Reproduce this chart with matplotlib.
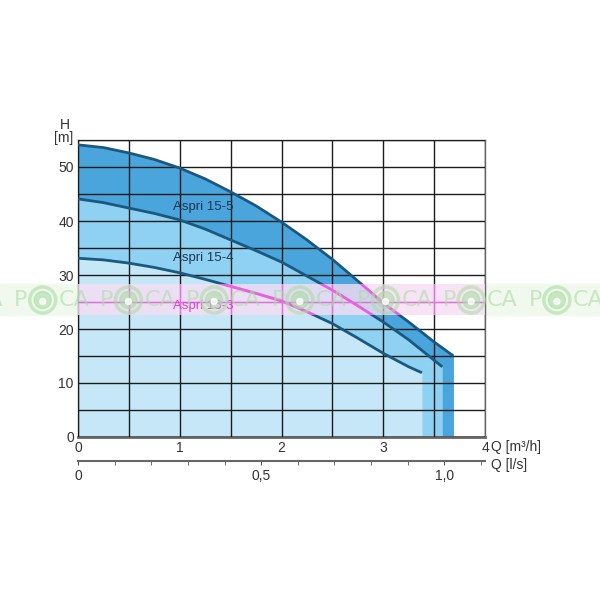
import numpy as np
import matplotlib.pyplot as plt
from matplotlib.patches import Rectangle, Circle

plt.rcParams['font.family'] = ['Liberation Sans', 'DejaVu Sans']

# pump curves, Q in m3/h, H in m
q_155 = [0, 0.25, 0.5, 0.75, 1, 1.25, 1.5, 1.75, 2, 2.25, 2.5, 2.75, 3, 3.25, 3.5, 3.69]
h_155 = [54.1, 53.6, 52.6, 51.4, 49.8, 47.8, 45.4, 42.8, 39.8, 36.5, 32.9, 28.9, 24.8, 21.3, 17.6, 15.0]

q_154 = [0, 0.25, 0.5, 0.75, 1, 1.25, 1.5, 1.75, 2, 2.25, 2.5, 2.75, 3, 3.25, 3.58]
h_154 = [44.1, 43.4, 42.4, 41.4, 40.2, 38.5, 36.5, 34.5, 32.4, 29.8, 27.2, 24.3, 21.3, 18.0, 13.0]

q_153 = [0, 0.25, 0.5, 0.75, 1, 1.25, 1.5, 1.75, 2, 2.25, 2.5, 2.75, 3, 3.25, 3.38]
h_153 = [33.1, 32.8, 32.2, 31.4, 30.4, 29.2, 27.9, 26.6, 25.2, 23.2, 21.0, 18.3, 15.5, 13.0, 11.9]

names = ['Aspri 15-5', 'Aspri 15-4', 'Aspri 15-3']
label_pos = [(1.23, 42.6), (1.23, 33.1), (1.23, 24.3)]
fills = ['#4aa5dc', '#8fd1f3', '#c6e7f8']
line_col = '#1a5880'
text_col = '#333333'

fig = plt.figure(figsize=(6, 6), dpi=100)
L, B, W, Ht = 78/600, 1-437/600, 407/600, 297/600
ax = fig.add_axes([L, B, W, Ht])

curves = [(q_155, h_155), (q_154, h_154), (q_153, h_153)]
for (q, h), c in zip(curves, fills):
    ax.fill_between(q, h, 0, color=c, lw=0, zorder=1)
for q, h in curves:
    ax.plot(q, h, color=line_col, lw=2, zorder=3, solid_capstyle='butt')

for (x, y), n, col in zip(label_pos, names, ['#1f3650', '#1f3650', '#e040d8']):
    ax.text(x, y, n, ha='center', va='center', fontsize=9.5, color=col, zorder=6)

ax.set_xlim(0, 4)
ax.set_ylim(0, 55)
ax.set_xticks(np.arange(0, 4.01, 0.5))
ax.set_yticks(np.arange(0, 55.1, 5))
ax.set_xticklabels(['0', '', '1', '', '2', '', '3', '', '4'])
ax.set_yticklabels(['0', '', '10', '', '20', '', '30', '', '40', '', '50', ''])
ax.grid(True, color='#1c1c1c', lw=1)
ax.set_axisbelow(False)
ax.tick_params(length=0, labelsize=10, colors=text_col, pad=3)
for s in ax.spines.values():
    s.set_color('#666666')
    s.set_linewidth(1)
ax.spines['bottom'].set_linewidth(2)

fig.text(65/600, 1-125/600, 'H', ha='center', va='center', fontsize=10, color=text_col)
fig.text(64/600, 1-138/600, '[m]', ha='center', va='center', fontsize=10, color=text_col)
fig.text(491/600, 1-447/600, 'Q [m³/h]', ha='left', va='center', fontsize=10, color=text_col)
fig.text(491/600, 1-465/600, 'Q [l/s]', ha='left', va='center', fontsize=10, color=text_col)

# second scale in l/s
ax2 = fig.add_axes([L, 1-460.5/600, W, 0.001])
ax2.set_xlim(0, 4/3.6)
ax2.set_ylim(0, 1)
ax2.set_yticks([])
for s in ['top', 'left', 'right']:
    ax2.spines[s].set_visible(False)
ax2.spines['bottom'].set_color('#666666')
ax2.spines['bottom'].set_linewidth(1.5)
ax2.set_xticks([0, 0.5, 1.0])
ax2.set_xticklabels(['0', '0,5', '1,0'])
ax2.set_xticks(np.arange(0, 1.11, 0.1), minor=True)
ax2.tick_params(axis='x', which='both', length=3, color='#555555', labelsize=10,
                labelcolor=text_col, pad=3)
ax2.patch.set_alpha(0)

# watermark band
band_lo, band_hi = 22.6, 28.3
fig.patches.append(Rectangle((0, 1-315/600), 1, 31/600, transform=fig.transFigure,
                             color='#f1f9ef', zorder=-1))
pink = Rectangle((0, band_lo), 4, band_hi-band_lo, color='#f6ddf3', alpha=0.8, lw=0, zorder=4)
ax.add_patch(pink)
clip = Rectangle((0, band_lo), 4, band_hi-band_lo, transform=ax.transData)
for q, h in curves:
    ln, = ax.plot(q, h, color='#ea5fe0', lw=2, zorder=4.5)
    ln.set_clip_path(clip)
for gx in np.arange(0.5, 4, 0.5):
    ax.axvline(gx, color='#e070dc', lw=1, zorder=4.5)
    ax.lines[-1].set_clip_path(clip)
ax.axhline(25, color='#e070dc', lw=1, zorder=4.5)

green = '#a9dea2'
for k in range(8):
    cx = (-43 + 85.7*k)/600
    cy = 1-300/600
    fig.patches.append(Circle((cx, cy), 13/600, transform=fig.transFigure, fill=False,
                              ec=green, lw=2.5, alpha=0.6, zorder=7))
    fig.patches.append(Circle((cx, cy), 8.5/600, transform=fig.transFigure, color=green,
                              alpha=0.6, zorder=7))
    fig.patches.append(Circle((cx, cy-1.5/600), 3/600, transform=fig.transFigure, color='white',
                              alpha=0.8, zorder=7.5))
    fig.text(cx-15/600, cy, 'P', ha='right', va='center', fontsize=16, color=green,
             alpha=0.6, zorder=7, family='DejaVu Sans')
    fig.text(cx+16/600, cy, 'CA', ha='left', va='center', fontsize=16, color=green,
             alpha=0.6, zorder=7, family='DejaVu Sans')

fig.savefig('out.png', dpi=100)
